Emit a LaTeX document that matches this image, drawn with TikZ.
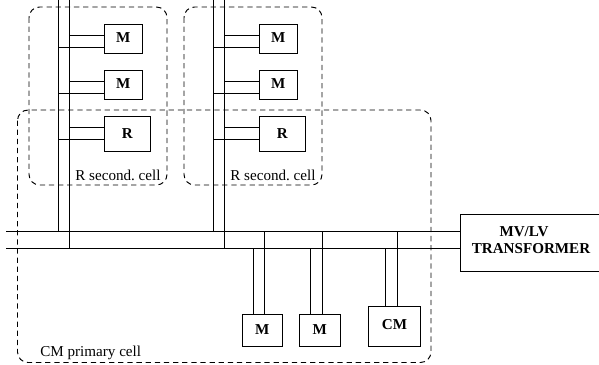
\documentclass[tikz,border=0pt]{standalone}
\usepackage{fontspec}
\setmainfont{Liberation Serif}
\usetikzlibrary{calc}
\tikzset{
    box/.style={draw,line width=0.55pt,inner sep=0pt,anchor=north west,font=\fontsize{8.6}{9.6}\selectfont\bfseries},
    cell/.style={draw,line width=0.55pt,rounded corners=6pt,dash pattern=on 3pt off 2.2pt},
    wire/.style={draw,line width=0.55pt},
    tag/.style={inner sep=0pt,anchor=west,font=\fontsize{8.6}{9.6}\selectfont\frenchspacing},
    head/.style={inner sep=0pt,font=\fontsize{8.6}{9.6}\selectfont\bfseries},
}

\begin{document}
\begin{tikzpicture}[x=0.02cm,y=-0.02cm]
\useasboundingbox (0,0) rectangle (599,365);

% dashed cells
\draw[cell] (29,7) rectangle (167,185);
\draw[cell] (184,7) rectangle (322,185);
\draw[cell] (17.5,110) rectangle (431,362.5);

% bus bars
\coordinate (busTl) at (6,231);
\coordinate (busBl) at (6,248);
\node[box,minimum width=2.78cm,minimum height=1.14cm] (trafo) at (460,214) {};
\node[head] (trafoA) at (524,232) {MV/LV};
\node[head] (trafoB) at (531,249) {TRANSFORMER};
\draw[wire] (busTl) -- (busTl -| trafo.west);
\draw[wire] (busBl) -- (busBl -| trafo.west);

% secondary cells
\foreach \c/\s in {A/0,B/155} {
    \begin{scope}[shift={(\s,0)}]
    \coordinate (g\c) at (58,0);
    \coordinate (k\c) at (69.5,0);
    \draw[wire] (g\c) -- (g\c |- busTl);
    \draw[wire] (k\c) -- (k\c |- busBl);
    \foreach \n/\t/\ytop/\yu/\yl/\w/\h/\d in {1/M/24/35.5/47.5/38.5/29/1.2pt,2/M/70/81.5/93/38.5/29/1.2pt,3/R/116/127.5/139/46.5/34.5/0pt} {
        \node[box,text depth=\d,minimum width=0.02cm*\w,minimum height=0.02cm*\h] (m\c\n) at (103.5,\ytop) {\t};
        \coordinate (u\c\n) at (103.5,\yu);
        \coordinate (l\c\n) at (103.5,\yl);
        \draw[wire] (k\c |- u\c\n) -- (u\c\n);
        \draw[wire] (g\c |- l\c\n) -- (l\c\n);
    }
    \node[tag] (lab\c) at (75,175) {R second. cell};
    \end{scope}
}

% primary cell loads
\foreach \n/\t/\xl/\ytop/\w/\h/\xa/\xb/\d in {1/M/241.5/314/40.5/32/253/264.5/1.2pt,2/M/299/314/40.5/32/310.5/322/1.2pt,3/CM/368/305.5/52/40.5/385.5/397/2.4pt} {
    \node[box,text depth=\d,minimum width=0.02cm*\w,minimum height=0.02cm*\h] (load\n) at (\xl,\ytop) {\t};
    \coordinate (la\n) at (\xa,\ytop);
    \coordinate (lb\n) at (\xb,\ytop);
    \draw[wire] (la\n |- busBl) -- (la\n);
    \draw[wire] (lb\n |- busTl) -- (lb\n);
}
\node[tag] (labCM) at (40,353) {CM primary cell};

\end{tikzpicture}
\end{document}
